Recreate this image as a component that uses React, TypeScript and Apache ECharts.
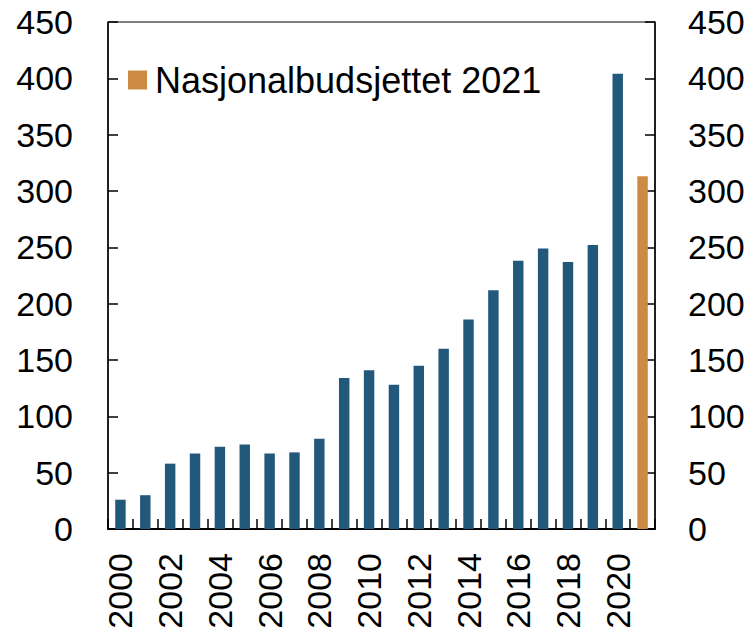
import React, { useEffect, useRef } from "react";
import * as echarts from "echarts";

const years = ["2000","2001","2002","2003","2004","2005","2006","2007","2008","2009","2010","2011","2012","2013","2014","2015","2016","2017","2018","2019","2020","2021"];
const actual = [26, 30, 58, 67, 73, 75, 67, 68, 80, 134, 141, 128, 145, 160, 186, 212, 238, 249, 237, 252, 404, null];
const budget = [null, null, null, null, null, null, null, null, null, null, null, null, null, null, null, null, null, null, null, null, null, 313];
const yTicks = { min: 0, max: 450, interval: 50 };

export default function App() {
  const ref = useRef<HTMLDivElement>(null);
  useEffect(() => {
    if (!ref.current) return;
    const chart = echarts.init(ref.current, null, { renderer: "svg" });
    const font = "'Liberation Sans', Arial, sans-serif";
    const yAxisBase = {
      type: "value",
      min: yTicks.min,
      max: yTicks.max,
      interval: yTicks.interval,
      axisLine: { show: true, lineStyle: { color: "#000", width: 1.5 } },
      axisTick: { show: true, inside: true, length: 10, lineStyle: { color: "#000", width: 1.5 } },
      splitLine: { show: false },
      axisLabel: { color: "#000", fontSize: 34, fontFamily: font, margin: 35 },
    };
    chart.setOption({
      animation: false,
      grid: { left: 108, right: 98, top: 22, bottom: 107, show: true, borderColor: "#000", borderWidth: 1 },
      legend: {
        data: ["Nasjonalbudsjettet 2021"],
        left: 123,
        top: 57,
        itemWidth: 19,
        itemHeight: 19,
        icon: "rect",
        textStyle: { color: "#000", fontSize: 36, fontFamily: font, padding: [0, 0, 0, 3] },
      },
      xAxis: {
        type: "category",
        data: years,
        axisLine: { show: true, lineStyle: { color: "#000", width: 2 } },
        axisTick: { show: true, inside: true, length: 10, interval: 0, lineStyle: { color: "#000", width: 1.5 } },
        axisLabel: { interval: 1, rotate: 90, margin: 24, color: "#000", fontSize: 34, fontFamily: font },
      },
      yAxis: [
        { ...yAxisBase, position: "left" },
        { ...yAxisBase, position: "right", axisLabel: { ...yAxisBase.axisLabel, margin: 33 } },
      ],
      series: [
        {
          name: "Faktisk",
          type: "bar",
          stack: "a",
          data: actual,
          barWidth: "42%",
          itemStyle: { color: "#22587a" },
        },
        {
          name: "Nasjonalbudsjettet 2021",
          type: "bar",
          stack: "a",
          data: budget,
          barWidth: "42%",
          itemStyle: { color: "#cd8a43" },
        },
      ],
    });
    return () => chart.dispose();
  }, []);
  return <div ref={ref} style={{ position: "absolute", left: 0, top: 0, width: 753, height: 636 }} />;
}
